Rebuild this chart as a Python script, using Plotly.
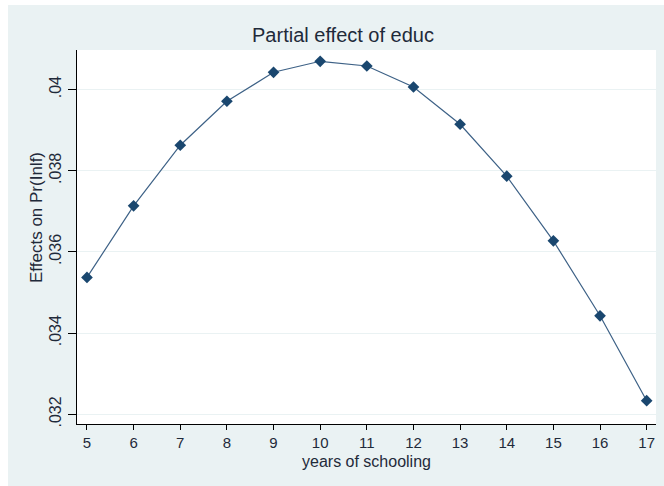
import plotly.graph_objects as go

years = [5, 6, 7, 8, 9, 10, 11, 12, 13, 14, 15, 16, 17]
effects = [0.035372, 0.037135, 0.038629, 0.039712, 0.040426, 0.040697, 0.040581,
           0.040064, 0.039146, 0.037866, 0.036273, 0.034427, 0.032335]
y_ticks = [0.032, 0.034, 0.036, 0.038, 0.040]
y_tick_labels = [".032", ".034", ".036", ".038", ".04"]

W, H = 664, 486
L, R, T, B = 77, 8, 50, 62
pw, ph = W - L - R, H - T - B

BG = "#EAF2F3"
NAVY = "#1A476F"
TXT = "#1f2a3a"
FONT = "Liberation Sans, Arial, sans-serif"

fig = go.Figure()
fig.add_trace(go.Scatter(
    x=years, y=effects, mode="lines+markers",
    line=dict(color="#3d6186", width=1.2),
    marker=dict(symbol="diamond", size=9, color=NAVY),
    showlegend=False,
))

def px_x(p):
    return (p - L) / pw

def px_y(p):
    return (H - B - p) / ph

shapes = [
    dict(type="rect", xref="paper", yref="paper", x0=px_x(0), x1=px_x(8),
         y0=px_y(H), y1=px_y(0), fillcolor="white", line=dict(width=0), layer="below"),
    dict(type="rect", xref="paper", yref="paper", x0=px_x(0), x1=px_x(W),
         y0=px_y(5), y1=px_y(0), fillcolor="white", line=dict(width=0), layer="below"),
]

annotations = [
    dict(text="years of schooling", xref="paper", yref="paper",
         x=px_x(366), y=px_y(461), xanchor="center", yanchor="middle",
         showarrow=False, font=dict(size=16, color=TXT, family=FONT)),
    dict(text="Effects on Pr(Inlf)", xref="paper", yref="paper", textangle=-90,
         x=px_x(36), y=px_y(218), xanchor="center", yanchor="middle",
         showarrow=False, font=dict(size=17, color=TXT, family=FONT)),
]

fig.update_layout(
    width=W, height=H,
    margin=dict(l=L, r=R, t=T, b=B, autoexpand=False),
    paper_bgcolor=BG, plot_bgcolor="white",
    font=dict(family=FONT, color=TXT, size=16),
    title=dict(text="Partial effect of educ", x=px_x(343), xref="paper", xanchor="center",
               y=1 - 35 / H, yref="container", yanchor="middle",
               font=dict(size=20, color=TXT)),
    shapes=shapes,
    annotations=annotations,
    xaxis=dict(
        range=[4.786, 17.2], tickmode="array", tickvals=years,
        ticktext=[str(v) for v in years], automargin=False,
        showgrid=False, zeroline=False,
        showline=True, linecolor="#000000", linewidth=1.3,
        ticks="outside", ticklen=5, tickcolor="#000000", tickwidth=1.2,
        tickfont=dict(size=15, color=TXT),
    ),
    yaxis=dict(
        range=[0.031761, 0.040975], tickmode="array", tickvals=y_ticks,
        ticktext=y_tick_labels, tickangle=-90, automargin=False,
        showgrid=True, gridcolor=BG, gridwidth=1.2, zeroline=False,
        showline=True, linecolor="#000000", linewidth=1.3,
        ticks="outside", ticklen=8, tickcolor="#000000", tickwidth=1.2,
        tickfont=dict(size=16, color=TXT),
    ),
)

fig.write_html(
    "out.html",
    config={"displayModeBar": False},
    post_script="document.body.style.margin='0';document.body.style.overflow='hidden';",
)
